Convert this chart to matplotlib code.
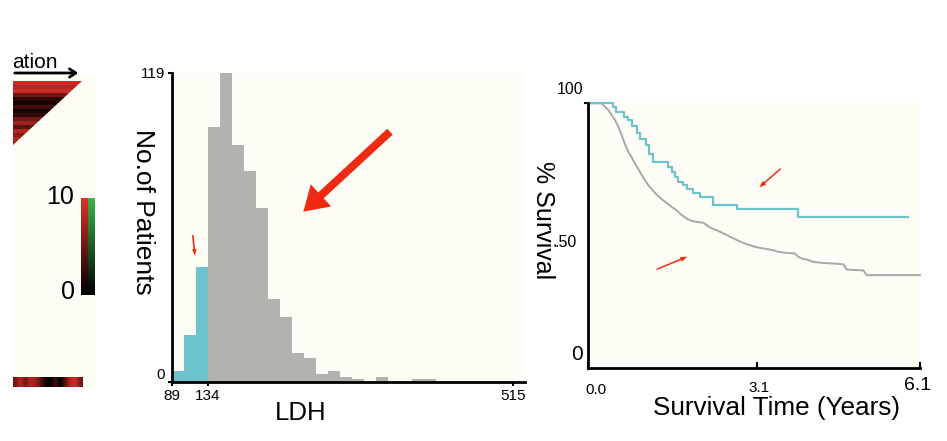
import numpy as np
import matplotlib
matplotlib.use("Agg")
import matplotlib.pyplot as plt
from matplotlib.colors import LinearSegmentedColormap
from matplotlib.patches import Polygon, FancyArrow

plt.rcParams['font.family'] = ['Liberation Sans', 'DejaVu Sans']

# ---------------- data ----------------
# left panel heat strips (0-10 scale)
tri_rows = [9, 8, 9, 5, 2, 1, 3, 1, 2, 5, 7, 4, 8, 6, 8, 7]
strip_cols = [5, 8, 5, 8, 7, 4, 1, 0, 3, 0, 4, 8, 9, 5]
cbar_ticks = ["10", "0"]

# LDH histogram
bin_start = 89
bin_width = 15
counts = [4, 18, 44, 98, 119, 91, 81, 67, 32, 25, 11, 9, 3, 4, 2, 1, 0, 2, 0, 0, 1, 1]
n_low = 3  # bins below cutoff (134)
ldh_ticks = [89, 134, 515]
count_ticks = [0, 119]

# Kaplan-Meier curves (years, % survival)
low_t = [0.0, 0.448, 0.509, 0.662, 0.736, 0.797, 0.901, 0.950, 1.061, 1.122, 1.196,
         1.471, 1.533, 1.594, 1.655, 1.735, 1.809, 1.931, 2.054, 2.299, 2.728, 3.863, 5.886]
low_s = [100.0, 98.5, 96.8, 94.9, 93.7, 91.4, 88.6, 86.4, 84.2, 81.0, 77.9,
         76.0, 74.1, 72.3, 70.4, 69.1, 67.5, 66.0, 64.7, 61.5, 59.9, 57.1, 57.1]
high_t = [0.0, 0.245, 0.307, 0.368, 0.429, 0.490, 0.552, 0.613, 0.674, 0.736, 0.797,
          0.858, 0.920, 0.981, 1.042, 1.104, 1.165, 1.226, 1.288, 1.349, 1.410, 1.471,
          1.533, 1.594, 1.655, 1.717, 1.778, 1.839, 1.901, 1.993, 2.115, 2.177, 2.238,
          2.330, 2.422, 2.514, 2.606, 2.698, 2.790, 2.882, 2.974, 3.066, 3.158, 3.280,
          3.403, 3.495, 3.648, 3.801, 3.863, 3.924, 4.016, 4.139, 4.323, 4.506, 4.690,
          4.752, 5.058, 5.120, 6.100]
high_s = [100.0, 100.0, 98.7, 97.5, 95.6, 93.7, 91.2, 88.0, 84.6, 81.7, 79.6,
          77.3, 75.2, 72.9, 71.0, 69.1, 67.6, 66.2, 64.9, 63.8, 62.8, 61.9,
          60.9, 60.0, 59.0, 57.8, 56.9, 56.1, 55.6, 55.2, 54.9, 54.0, 53.1,
          52.3, 51.5, 50.6, 49.6, 48.7, 47.8, 47.0, 46.4, 45.8, 45.4, 45.0,
          44.5, 43.9, 43.5, 43.3, 42.0, 41.4, 41.0, 40.1, 39.7, 39.5, 39.2,
          37.2, 36.9, 35.1, 35.1]

# ---------------- style ----------------
W, H = 947, 441
CREAM = '#FDFDF5'
CYAN = '#6CC3CB'
GRAY = '#B0B3AE'
GRAYLINE = '#A8A8A8'
RED = '#F02A12'
red_cmap = LinearSegmentedColormap.from_list('rk', ['#000000', '#E2302A'])
green_cmap = LinearSegmentedColormap.from_list('gk', ['#000000', '#3DB44A'])


def fx(x):
    return x / W


def fy(y):
    return 1 - y / H


def rect(x0, y0, x1, y1):
    return [fx(x0), fy(y1), fx(x1) - fx(x0), fy(y0) - fy(y1)]


fig = plt.figure(figsize=(W / 100, H / 100), dpi=100, facecolor='white')

# ---------------- left panel ----------------
axl = fig.add_axes(rect(13, 75, 95, 387))
axl.set_facecolor(CREAM)
for s in axl.spines.values():
    s.set_visible(False)
axl.set_xticks([])
axl.set_yticks([])

im = axl.imshow(np.array(tri_rows, dtype=float)[:, None], cmap=red_cmap, vmin=0, vmax=10,
                extent=(13, 82, 145, 81), aspect='auto', interpolation='nearest')
tri = Polygon([(13, 81), (82, 81), (13, 145)], closed=True, transform=axl.transData)
im.set_clip_path(tri)

grad = np.linspace(10, 0, 80)[:, None]
axl.imshow(grad, cmap=red_cmap, vmin=0, vmax=10, extent=(81, 88, 295, 198),
           aspect='auto', interpolation='bilinear')
axl.imshow(grad, cmap=green_cmap, vmin=0, vmax=10, extent=(88, 95, 295, 198),
           aspect='auto', interpolation='bilinear')
axl.imshow(np.array(strip_cols, dtype=float)[None, :], cmap=red_cmap, vmin=0, vmax=10,
           extent=(13, 82, 387, 377), aspect='auto', interpolation='bilinear')
axl.set_xlim(13, 95)
axl.set_ylim(387, 75)

fig.text(fx(74), fy(197), cbar_ticks[0], fontsize=18, ha='right', va='center')
fig.text(fx(75), fy(292), cbar_ticks[1], fontsize=18, ha='right', va='center')
fig.text(fx(12), fy(68), 'ation', fontsize=15, ha='left', va='baseline')

# ---------------- histogram ----------------
ax1 = fig.add_axes(rect(171.7, 72.7, 525, 381.7))
ax1.set_facecolor(CREAM)
edges = [bin_start + i * bin_width for i in range(len(counts))]
colors = [CYAN if i < n_low else GRAY for i in range(len(counts))]
ax1.bar(edges, counts, width=bin_width, align='edge', color=colors, edgecolor='none', zorder=2)
ax1.set_xlim(89, 530.5)
ax1.set_ylim(0, 119)
for s in ['top', 'right']:
    ax1.spines[s].set_visible(False)
for s in ['left', 'bottom']:
    ax1.spines[s].set_linewidth(2.0)
    ax1.spines[s].set_color('black')
    ax1.spines[s].set_zorder(3)
ax1.set_xticks(ldh_ticks)
ax1.set_xticklabels([str(v) for v in ldh_ticks], fontsize=11)
ax1.set_yticks(count_ticks)
ax1.set_yticklabels([str(v) for v in count_ticks], fontsize=11)
ax1.tick_params(axis='both', length=3, width=1.5, pad=2, color='black')
ax1.get_yticklabels()[0].set_va('bottom')

fig.text(fx(143), fy(212), 'No.of Patients', fontsize=19, rotation=270,
         ha='center', va='center')
fig.text(fx(301), fy(413), 'LDH', fontsize=18.5, ha='center', va='center')

# ---------------- survival ----------------
ax2 = fig.add_axes(rect(588.3, 103.3, 920, 368.1))
ax2.set_facecolor(CREAM)
ax2.plot(high_t, high_s, color=GRAYLINE, lw=1.4, clip_on=False, zorder=2)
ax2.step(low_t, low_s, where='post', color=CYAN, lw=1.6, clip_on=False, zorder=3)
ax2.set_xlim(0, 6.1)
ax2.set_ylim(0, 100)
for s in ['top', 'right']:
    ax2.spines[s].set_visible(False)
for s in ['left', 'bottom']:
    ax2.spines[s].set_linewidth(2.0)
    ax2.spines[s].set_color('black')
    ax2.spines[s].set_zorder(4)
ax2.set_xticks([0, 3.1, 6.1])
ax2.set_xticklabels([])
ax2.tick_params(axis='x', direction='in', length=4, width=1.5)
ax2.set_yticks([100])
ax2.set_yticklabels([])
ax2.tick_params(axis='y', direction='out', length=3, width=1.5)

ytr = ax2.get_yaxis_transform()
xtr = ax2.get_xaxis_transform()
ax2.annotate('100', xy=(0, 100), xycoords=ytr, xytext=(-5, 14), textcoords='offset pixels',
             ha='right', va='center', fontsize=11.5)
ax2.annotate('.50', xy=(0, 50), xycoords=ytr, xytext=(-12, -7), textcoords='offset pixels',
             ha='right', va='center', fontsize=11.5)
ax2.annotate('0', xy=(0, 0), xycoords=ytr, xytext=(-5, 13.5), textcoords='offset pixels',
             ha='right', va='center', fontsize=15)
ax2.annotate('0.0', xy=(0, 0), xycoords=xtr, xytext=(7.5, -22), textcoords='offset pixels',
             ha='center', va='center', fontsize=11)
ax2.annotate('3.1', xy=(3.1, 0), xycoords=xtr, xytext=(2, -19.5), textcoords='offset pixels',
             ha='center', va='center', fontsize=11)
ax2.annotate('6.1', xy=(6.1, 0), xycoords=xtr, xytext=(-2, -17.5), textcoords='offset pixels',
             ha='center', va='center', fontsize=14)

fig.text(fx(543), fy(220), '% Survival', fontsize=18, rotation=270, ha='center', va='center')
fig.text(fx(776), fy(408), 'Survival Time (Years)', fontsize=18.8, ha='center', va='center')

# ---------------- annotation overlay (arrows) ----------------
ov = fig.add_axes([0, 0, 1, 1], zorder=10)
ov.set_xlim(0, W)
ov.set_ylim(H, 0)
ov.axis('off')


def arrow(x0, y0, x1, y1, width, hw, hl):
    ov.add_patch(FancyArrow(x0, y0, x1 - x0, y1 - y0, width=width, head_width=hw,
                            head_length=hl, length_includes_head=True,
                            color=RED, lw=0))


arrow(390, 131.7, 303.3, 211.7, 8, 30, 24)
arrow(192.7, 235, 195, 256, 1.6, 4.5, 7)
arrow(780.7, 168.7, 759.3, 187.3, 1.5, 5, 7)
arrow(656.7, 269.3, 687.3, 256.7, 1.5, 5, 7)

# black arrow under "ation"
ov.annotate('', xy=(81, 73), xytext=(12, 73),
            arrowprops=dict(arrowstyle='->,head_length=0.45,head_width=0.3', lw=2, color='black'))

fig.savefig('out.png', dpi=100, facecolor='white')
